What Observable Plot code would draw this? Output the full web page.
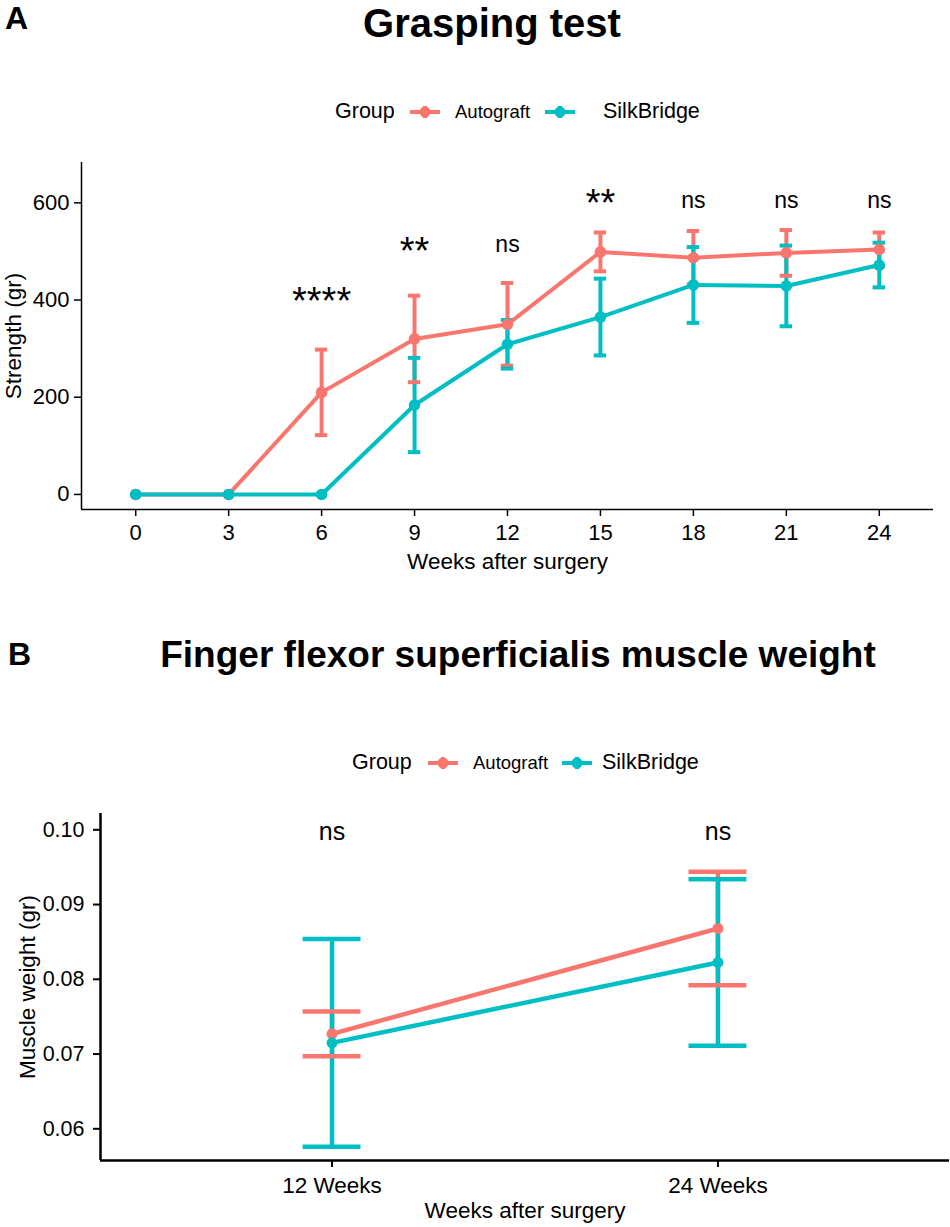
<!DOCTYPE html>
<html><head><meta charset="utf-8">
<script src="https://cdn.jsdelivr.net/npm/d3@7"></script>
<script src="https://cdn.jsdelivr.net/npm/@observablehq/plot@0.6"></script>
<style>
body{margin:0;background:#fff;font-family:"Liberation Sans",Arial,sans-serif;}
#root{position:relative;width:950px;height:1227px;overflow:hidden;background:#fff;}
.abs{position:absolute;white-space:nowrap;line-height:1;color:#000;}
</style></head><body><div id="root"></div>
<script>
// ---------- data ----------
const groups = ["Autograft", "SilkBridge"];
const groupColors = ["#F8766D", "#00BFC4"];

// Panel A: grasping test
const weeks = [0, 3, 6, 9, 12, 15, 18, 21, 24];
const autoMean = [0, 0, 210, 320, 350, 499, 487, 497, 504];
const autoSE   = [0, 0, 88, 89, 85, 40, 55, 47, 35];
const silkMean = [0, 0, 0, 184, 309, 365, 431, 429, 472];
const silkSE   = [0, 0, 0, 97, 50, 79, 78, 83, 46];
const sigWeeks  = [6, 9, 12, 15, 18, 21, 24];
const sigLabels = ["****", "**", "ns", "**", "ns", "ns", "ns"];
const sigY      = [413, 516, 512, 615, 601, 601, 601];
const yTicksA = [0, 200, 400, 600];
const xDomA = [-1.75, 25.75];
const yDomA = [-31, 683];

// Panel B: muscle weight
const bLabels = ["12 Weeks", "24 Weeks"];
const bPos = [1, 2];
const bAutoMean = [0.0727, 0.0868];
const bAutoSE   = [0.0030, 0.0076];
const bSilkMean = [0.0715, 0.08225];
const bSilkSE   = [0.0139, 0.01115];
const bSigLabels = ["ns", "ns"];
const bSigY = [0.0995, 0.0995];
const yTicksB = [0.06, 0.07, 0.08, 0.09, 0.10];
const xDomB = [0.4, 2.6];
const yDomB = [0.05576, 0.10218];

const xTitle = "Weeks after surgery";
const yTitleA = "Strength (gr)";
const yTitleB = "Muscle weight (gr)";

// ---------- helpers ----------
const FONT = '"Liberation Sans", Arial, sans-serif';
const root = document.getElementById("root");
function addText(txt, left, top, size, opts = {}) {
  const d = document.createElement("div");
  d.className = "abs";
  d.textContent = txt;
  d.style.left = left + "px";
  d.style.top = top + "px";
  d.style.fontSize = size + "px";
  if (opts.bold) d.style.fontWeight = "bold";
  if (opts.center) d.style.transform = "translateX(-50%)";
  root.appendChild(d);
}
function addKey(color, x1, x2, cy) {
  const w = x2 - x1, h = 20;
  const ns = "http://www.w3.org/2000/svg";
  const s = document.createElementNS(ns, "svg");
  s.setAttribute("width", w); s.setAttribute("height", h);
  s.style.position = "absolute"; s.style.left = x1 + "px"; s.style.top = (cy - h / 2) + "px";
  const l = document.createElementNS(ns, "line");
  l.setAttribute("x1", 0); l.setAttribute("x2", w); l.setAttribute("y1", h / 2); l.setAttribute("y2", h / 2);
  l.setAttribute("stroke", color); l.setAttribute("stroke-width", 4);
  s.appendChild(l);
  const v = document.createElementNS(ns, "line");
  v.setAttribute("x1", w / 2); v.setAttribute("x2", w / 2); v.setAttribute("y1", h / 2 - 6); v.setAttribute("y2", h / 2 + 6);
  v.setAttribute("stroke", color); v.setAttribute("stroke-width", 4);
  s.appendChild(v);
  const c = document.createElementNS(ns, "circle");
  c.setAttribute("cx", w / 2); c.setAttribute("cy", h / 2); c.setAttribute("r", 5.5); c.setAttribute("fill", color);
  s.appendChild(c);
  root.appendChild(s);
}
function legend(cy, groupX, keys) {
  addText("Group", groupX, cy - 10.75, 21.5);
  keys.forEach((k, i) => {
    addKey(groupColors[i], k.x1, k.x2, cy);
    const size = i === 0 ? 18.5 : 21.5;
    addText(groups[i], k.lx, cy - size / 2, size);
  });
}

// ---------- titles & legends ----------
addText("A", 5, 2, 32, {bold: true});
addText("Grasping test", 492, 2.6, 40, {center: true, bold: true});
legend(112, 335, [{x1: 410, x2: 440, lx: 455}, {x1: 545, x2: 575, lx: 603}]);

addText("B", 8, 638, 32, {bold: true});
addText("Finger flexor superficialis muscle weight", 518, 636, 37, {center: true, bold: true});
legend(763, 352, [{x1: 428, x2: 458, lx: 473}, {x1: 562, x2: 592, lx: 602}]);

// ---------- panel A ----------
const dataA = [];
groups.forEach((g, gi) => {
  const m = gi ? silkMean : autoMean, s = gi ? silkSE : autoSE;
  weeks.forEach((w, i) => dataA.push({group: g, week: w, mean: m[i], se: s[i]}));
});
const errA = dataA.filter(d => d.se > 0);
const capA = 0.2;
const sigA = sigWeeks.map((w, i) => ({week: w, label: sigLabels[i], y: sigY[i]}));

const plotA = Plot.plot({
  width: 950, height: 600,
  marginTop: 162, marginBottom: 91, marginLeft: 81, marginRight: 17,
  style: {fontFamily: FONT, background: "transparent", overflow: "visible"},
  x: {domain: xDomA},
  y: {domain: yDomA},
  color: {domain: groups, range: groupColors},
  marks: [
    Plot.ruleX([xDomA[0]], {stroke: "#000", strokeWidth: 1.5}),
    Plot.ruleY([yDomA[0]], {stroke: "#000", strokeWidth: 1.5}),
    Plot.axisX({ticks: weeks, tickSize: 7, tickPadding: 8, fontSize: 22, label: null, color: "#000", strokeWidth: 1.5}),
    Plot.axisY({ticks: yTicksA, tickSize: 7, tickPadding: 5, fontSize: 22, label: null, color: "#000", strokeWidth: 1.5}),
    Plot.text([xTitle], {text: d => d, frameAnchor: "bottom", textAnchor: "middle", dy: 59, fontSize: 22.5, fill: "#000"}),
    Plot.text([yTitleA], {text: d => d, frameAnchor: "left", textAnchor: "middle", dx: -68, rotate: -90, fontSize: 22.5, fill: "#000"}),
    Plot.ruleX(errA, {x: "week", y1: d => d.mean - d.se, y2: d => d.mean + d.se, stroke: "group", strokeWidth: 4}),
    Plot.ruleY(errA, {y: d => d.mean + d.se, x1: d => d.week - capA, x2: d => d.week + capA, stroke: "group", strokeWidth: 4}),
    Plot.ruleY(errA, {y: d => d.mean - d.se, x1: d => d.week - capA, x2: d => d.week + capA, stroke: "group", strokeWidth: 4}),
    Plot.line(dataA, {x: "week", y: "mean", z: "group", stroke: "group", strokeWidth: 4}),
    Plot.dot(dataA, {x: "week", y: "mean", fill: "group", r: 5.8}),
    Plot.text(sigA.filter(d => d.label === "ns"), {x: "week", y: "y", text: "label", fontSize: 23, dy: -1.4, fill: "#000"}),
    Plot.text(sigA.filter(d => d.label !== "ns"), {x: "week", y: "y", text: "label", fontSize: 38, dy: 8, fill: "#000"})
  ]
});
plotA.style.position = "absolute"; plotA.style.left = "0px"; plotA.style.top = "0px";
root.appendChild(plotA);

// ---------- panel B ----------
const dataB = [];
groups.forEach((g, gi) => {
  const m = gi ? bSilkMean : bAutoMean, s = gi ? bSilkSE : bAutoSE;
  bPos.forEach((p, i) => dataB.push({group: g, pos: p, mean: m[i], se: s[i]}));
});
const capB = 0.075;
const sigB = bPos.map((p, i) => ({pos: p, label: bSigLabels[i], y: bSigY[i]}));

const plotB = Plot.plot({
  width: 950, height: 537,
  marginTop: 123, marginBottom: 67, marginLeft: 100, marginRight: 1,
  style: {fontFamily: FONT, background: "transparent", overflow: "visible"},
  x: {domain: xDomB},
  y: {domain: yDomB},
  color: {domain: groups, range: groupColors},
  marks: [
    Plot.ruleX([xDomB[0]], {stroke: "#000", strokeWidth: 2.5}),
    Plot.ruleY([yDomB[0]], {stroke: "#000", strokeWidth: 2.5}),
    Plot.axisX({ticks: bPos, tickFormat: d => bLabels[d - 1], tickSize: 7, tickPadding: 10, fontSize: 22.5, label: null, color: "#000", strokeWidth: 2}),
    Plot.axisY({ticks: yTicksB, tickFormat: d3.format(".2f"), tickSize: 7, tickPadding: 9, fontSize: 21.5, label: null, color: "#000", strokeWidth: 2}),
    Plot.text([xTitle], {text: d => d, frameAnchor: "bottom", textAnchor: "middle", dy: 57, fontSize: 22.5, fill: "#000"}),
    Plot.text([yTitleB], {text: d => d, frameAnchor: "left", textAnchor: "middle", dx: -73, rotate: -90, fontSize: 22.5, fill: "#000"}),
    Plot.ruleX(dataB, {x: "pos", y1: d => d.mean - d.se, y2: d => d.mean + d.se, stroke: "group", strokeWidth: 4.5}),
    Plot.ruleY(dataB, {y: d => d.mean + d.se, x1: d => d.pos - capB, x2: d => d.pos + capB, stroke: "group", strokeWidth: 4.5}),
    Plot.ruleY(dataB, {y: d => d.mean - d.se, x1: d => d.pos - capB, x2: d => d.pos + capB, stroke: "group", strokeWidth: 4.5}),
    Plot.line(dataB, {x: "pos", y: "mean", z: "group", stroke: "group", strokeWidth: 4.5}),
    Plot.dot(dataB, {x: "pos", y: "mean", fill: "group", r: 5.5}),
    Plot.text(sigB, {x: "pos", y: "y", text: "label", fontSize: 25, dy: -1.5, fill: "#000"})
  ]
});
plotB.style.position = "absolute"; plotB.style.left = "0px"; plotB.style.top = "690px";
root.appendChild(plotB);
</script></body></html>
